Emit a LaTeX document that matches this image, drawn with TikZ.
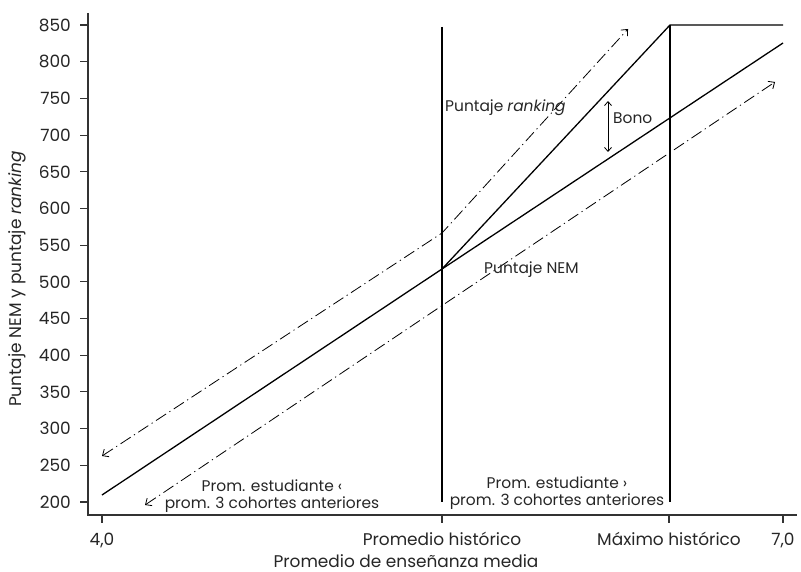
\documentclass[tikz,border=0pt]{standalone}
\usepackage{fontspec}
\setmainfont{Poppins}
\usetikzlibrary{arrows.meta}
\tikzset{
  mainline/.style={line width=1.3bp, black},
  axisline/.style={line width=1.1bp, black!80},
  dashdot/.style={line width=0.8bp, black, dash pattern=on 12bp off 4bp on 1.2bp off 4bp},
  barbs/.style={{Straight Barb[length=5bp,width=9bp]}-{Straight Barb[length=5bp,width=9bp]}},
  axlabel/.style={font=\fontsize{17}{19}\selectfont, text=black!85, inner sep=0pt},
  note/.style={font=\fontsize{15.5}{17.5}\selectfont, text=black!85, inner sep=0pt},
}
\begin{document}
\begin{tikzpicture}[x=1bp,y=-1bp]
\useasboundingbox (0,0) rectangle (801,572);
% axes
\coordinate (ytop) at (88,13);
\coordinate (orig) at (88,515);
\coordinate (xend) at (797,515);
\draw[axisline] (ytop) -- (orig) -- (xend);
% y ticks
\foreach \v [evaluate=\v as \yy using {502-(\v-200)*0.7338}] in {200,250,...,850}{
  \draw[axisline] (80,\yy) -- (88,\yy);
  \node[axlabel, anchor=east] (yt\v) at (71,\yy) {\v};
}
% x ticks
\foreach \xx/\lab/\nm in {102/{4,0}/a, 442/{Promedio histórico}/b, 669/{Máximo histórico}/c, 783/{7,0}/d}{
  \draw[axisline] (\xx,515) -- (\xx,523);
  \node[axlabel, anchor=base] (xt\nm) at (\xx,545) {\lab};
}
\node[axlabel, anchor=base] (xtitle) at (406,567) {Promedio de enseñanza media};
\node[axlabel, rotate=90] (ytitle) at (17,279) {Puntaje NEM y puntaje \textit{ranking}};
% key points
\coordinate (n0) at (102,495);
\coordinate (pm) at (442,269);
\coordinate (n1) at (783,43);
\coordinate (rmax) at (670,25);
\coordinate (rend) at (783,25);
\coordinate (v1t) at (442,27);
\coordinate (v1b) at (442,502);
\coordinate (v2b) at (670,502);
% lines
\draw[mainline] (n0) -- (pm) -- (n1);
\draw[mainline] (pm) -- (rmax) -- (rend);
\draw[mainline] (v1t) -- (v1b);
\draw[mainline] (rmax) -- (v2b);
% dash-dot arrows
\coordinate (u0) at (102,456);
\coordinate (ub) at (442,233);
\coordinate (u1) at (628,29);
\draw[dashdot, barbs] (u0) -- (ub) -- (u1);
\coordinate (l0) at (145,505);
\coordinate (l1) at (775,82);
\draw[dashdot, barbs] (l0) -- (l1);
% bono
\coordinate (b0) at (608,101);
\coordinate (b1) at (608,152);
\draw[line width=0.8bp, {Straight Barb[length=4bp,width=7bp]}-{Straight Barb[length=4bp,width=7bp]}] (b0) -- (b1);
\node[note, anchor=west] (bono) at (613,118) {Bono};
\node[note, anchor=west] (rank) at (445,108) {Puntaje \textit{ranking}};
\node[note, anchor=west] (nem) at (484,270) {Puntaje NEM};
\node[note, align=center] (box1) at (272,496) {Prom. estudiante ‹\\prom. 3 cohortes anteriores};
\node[note, align=center] (box2) at (557,493) {Prom. estudiante ›\\prom. 3 cohortes anteriores};
\end{tikzpicture}
\end{document}
